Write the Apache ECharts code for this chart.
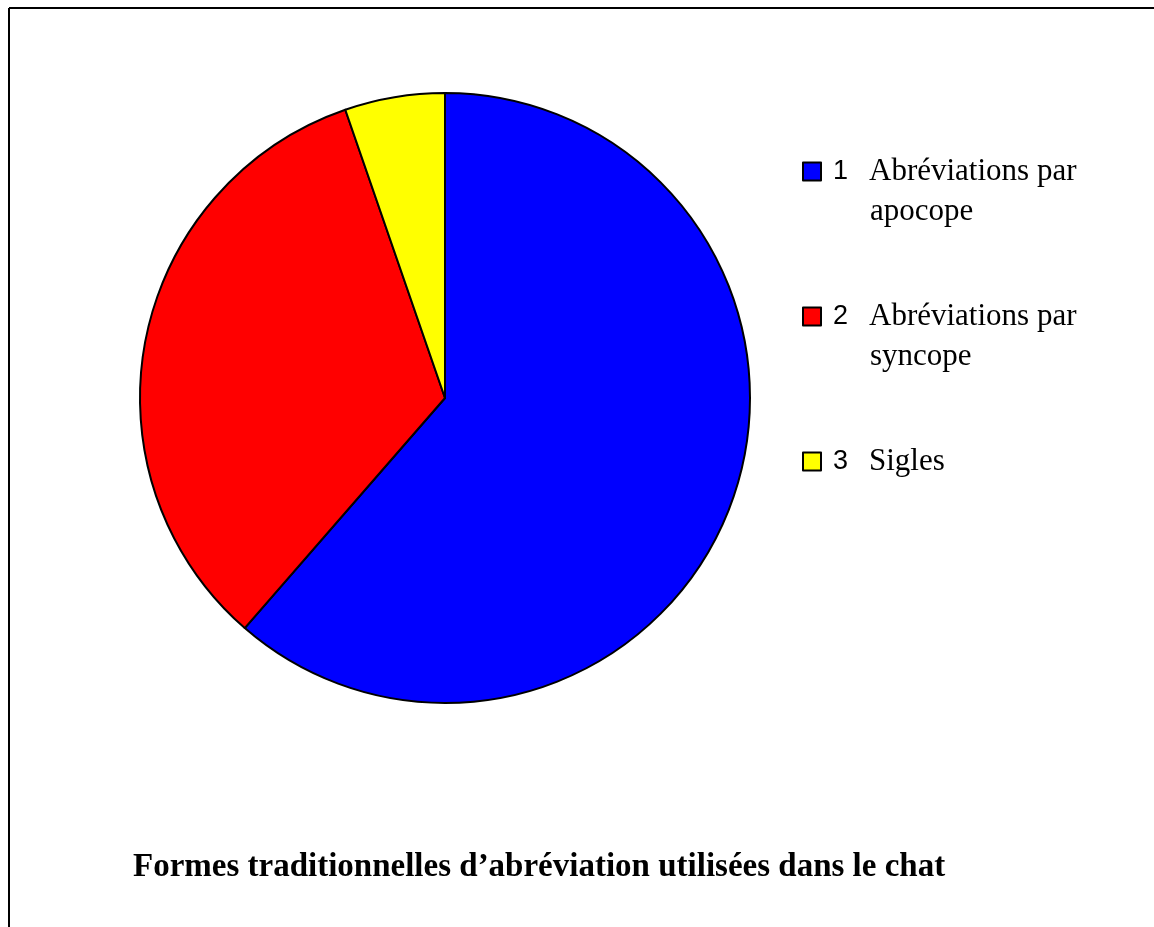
<!DOCTYPE html>
<html>
<head>
<meta charset="utf-8">
<script src="https://cdn.jsdelivr.net/npm/echarts@6/dist/echarts.min.js"></script>
<style>
  html, body { margin: 0; padding: 0; background: #fff; }
  #chart { width: 1154px; height: 927px; }
</style>
</head>
<body>
<div id="chart"></div>
<script>
// categories and shares
var numbers = ['1', '2', '3'];
var firstLines = ['Abréviations par', 'Abréviations par', 'Sigles'];
var secondLines = ['apocope', 'syncope', ' '];
var categories = ['Abréviations par apocope', 'Abréviations par syncope', 'Sigles'];
var values = [61.4, 33.3, 5.3];
var colors = ['#0000FF', '#FF0000', '#FFFF00'];
var chartTitle = 'Formes traditionnelles d\u2019abréviation utilisées dans le chat';

var myChart = echarts.init(document.getElementById('chart'));

var pieData = categories.map(function (name, i) {
  return { name: name, value: values[i], itemStyle: { color: colors[i] } };
});

var option = {
  animation: false,
  backgroundColor: '#fff',
  title: {
    text: chartTitle,
    left: 128,
    top: 846,
    textStyle: {
      fontFamily: 'Liberation Serif',
      fontWeight: 'bold',
      fontSize: 33,
      color: '#000'
    }
  },
  legend: {
    orient: 'vertical',
    left: 802,
    top: 156,
    padding: 0,
    itemGap: 74,
    itemWidth: 18,
    itemHeight: 18,
    icon: 'rect',
    itemStyle: { borderColor: '#000', borderWidth: 2 },
    data: categories,
    formatter: function (name) {
      var i = categories.indexOf(name);
      return '{n|' + numbers[i] + '}{t|' + firstLines[i] + '}\n{s|}{t|' + secondLines[i] + '}';
    },
    textStyle: {
      padding: [40, 0, 0, 0],
      rich: {
        n: { fontFamily: 'Liberation Sans', fontSize: 27, color: '#000', width: 36, padding: [0, 0, 0, 7], lineHeight: 40 },
        s: { width: 44, lineHeight: 40 },
        t: { fontFamily: 'Liberation Serif', fontSize: 31, color: '#000', lineHeight: 40 }
      }
    }
  },
  graphic: [
    { type: 'line', shape: { x1: 9, y1: 8, x2: 1154, y2: 8 }, style: { stroke: '#000', lineWidth: 2 } },
    { type: 'line', shape: { x1: 9, y1: 8, x2: 9, y2: 927 }, style: { stroke: '#000', lineWidth: 2 } }
  ],
  series: [
    {
      type: 'pie',
      center: [445, 398],
      radius: 305,
      startAngle: 90,
      clockwise: true,
      label: { show: false },
      labelLine: { show: false },
      emphasis: { disabled: true },
      itemStyle: { borderColor: '#000', borderWidth: 2 },
      data: pieData
    }
  ]
};

option && myChart.setOption(option);
</script>
</body>
</html>
